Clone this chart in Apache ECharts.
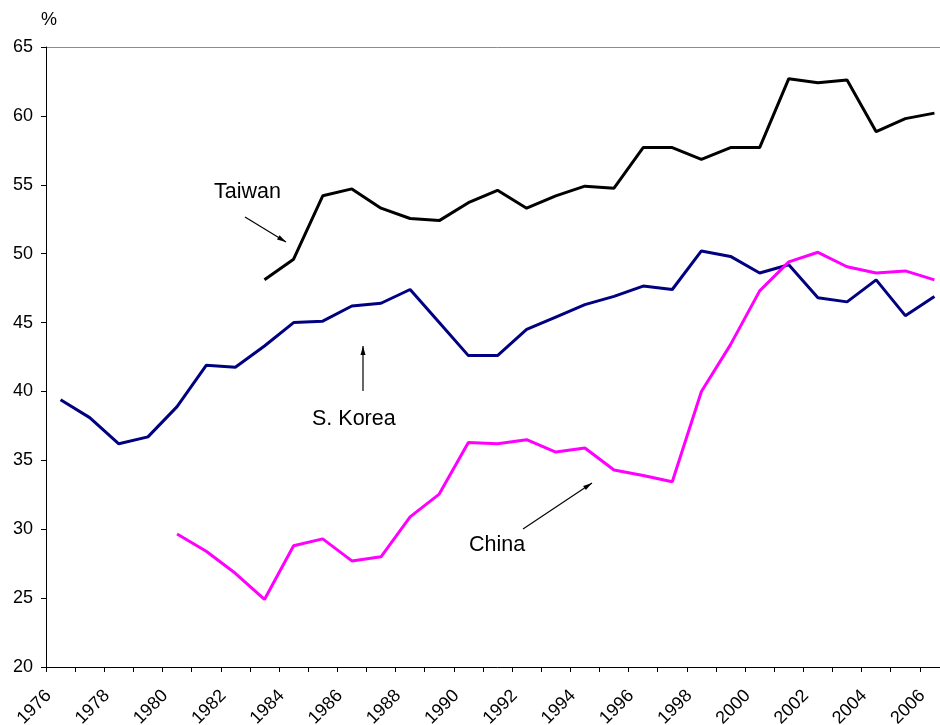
<!DOCTYPE html>
<html>
<head>
<meta charset="utf-8">
<script src="https://cdn.jsdelivr.net/npm/echarts@6/dist/echarts.min.js"></script>
<style>
  html, body { margin: 0; padding: 0; background: #fff; overflow: hidden; }
  #chart { width: 960px; height: 725px; }
</style>
</head>
<body>
<div id="chart"></div>
<script>
// Years on the category axis
const years = [];
for (let y = 1976; y <= 2006; y++) years.push(String(y));

// Shares in percent, one value per year (null where no data)
const korea = [39.4, 38.1, 36.2, 36.7, 38.9, 41.9, 41.75, 43.3, 45.0, 45.1,
  46.2, 46.4, 47.4, 45.0, 42.6, 42.6, 44.5, 45.4, 46.3, 46.9,
  47.65, 47.4, 50.2, 49.8, 48.6, 49.2, 46.8, 46.5, 48.1, 45.5, 46.9];

const taiwan = [null, null, null, null, null, null, null, 48.1, 49.6, 54.2,
  54.7, 53.3, 52.55, 52.4, 53.7, 54.6, 53.3, 54.2, 54.9, 54.75,
  57.7, 57.7, 56.85, 57.7, 57.7, 62.7, 62.4, 62.6, 58.85, 59.8, 60.2];

const china = [null, null, null, null, 29.65, 28.4, 26.8, 24.9, 28.8, 29.3,
  27.7, 28.0, 30.9, 32.55, 36.3, 36.2, 36.5, 35.6, 35.9, 34.3,
  33.9, 33.45, 40.0, 43.4, 47.3, 49.4, 50.1, 49.05, 48.6, 48.75, 48.1];

const yTicks = { min: 20, max: 65, step: 5 };

const FONT = 'Liberation Sans, Arial, sans-serif';

// Split lines: only the top one (65) is drawn, in grey
const splitColors = [];
for (let v = yTicks.min; v <= yTicks.max; v += yTicks.step) {
  splitColors.push(v === yTicks.max ? '#8c8c8c' : 'rgba(0,0,0,0)');
}

function arrow(x1, y1, x2, y2) {
  const ang = Math.atan2(y2 - y1, x2 - x1);
  const L = 9, W = 2.5;
  const bx = x2 - L * Math.cos(ang), by = y2 - L * Math.sin(ang);
  const px = -Math.sin(ang) * W, py = Math.cos(ang) * W;
  return [
    { type: 'line', shape: { x1: x1, y1: y1, x2: x2, y2: y2 }, style: { stroke: '#000', lineWidth: 1.2 }, z: 10 },
    { type: 'polygon', shape: { points: [[x2, y2], [bx + px, by + py], [bx - px, by - py]] }, style: { fill: '#000' }, z: 10 }
  ];
}

const chart = echarts.init(document.getElementById('chart'), null, { renderer: 'canvas' });

chart.setOption({
  animation: false,
  backgroundColor: '#ffffff',
  grid: { left: 46, top: 47, width: 903, height: 620, containLabel: false, outerBoundsMode: 'none' },
  xAxis: {
    type: 'category',
    data: years,
    boundaryGap: true,
    axisLine: { lineStyle: { color: '#000', width: 1 } },
    axisTick: { show: true, interval: 0, length: 5, lineStyle: { color: '#000' } },
    axisLabel: { interval: 1, rotate: 45, margin: 14, padding: [0, 17, 0, 0],
      fontFamily: FONT, fontSize: 18, color: '#000' },
    splitLine: { show: false }
  },
  yAxis: {
    type: 'value',
    min: yTicks.min, max: yTicks.max, interval: yTicks.step,
    name: '%',
    nameLocation: 'end',
    nameGap: 18,
    nameTextStyle: { fontFamily: FONT, fontSize: 18, color: '#000', align: 'left', padding: [0, 0, 0, -5] },
    axisLine: { show: true, lineStyle: { color: '#000', width: 1 } },
    axisTick: { show: true, length: 5, lineStyle: { color: '#000' } },
    axisLabel: { margin: 13, fontFamily: FONT, fontSize: 18, color: '#000' },
    splitLine: { show: true, lineStyle: { color: splitColors, width: 1 } }
  },
  series: [
    { name: 'Taiwan', type: 'line', data: taiwan, showSymbol: false, symbol: 'none',
      lineStyle: { color: '#000000', width: 3 }, itemStyle: { color: '#000000' } },
    { name: 'S. Korea', type: 'line', data: korea, showSymbol: false, symbol: 'none',
      lineStyle: { color: '#000080', width: 3 }, itemStyle: { color: '#000080' } },
    { name: 'China', type: 'line', data: china, showSymbol: false, symbol: 'none',
      lineStyle: { color: '#ff00ff', width: 3 }, itemStyle: { color: '#ff00ff' } }
  ],
  graphic: [
    { type: 'text', left: 214, top: 181, style: { text: 'Taiwan', font: '21.5px ' + FONT, fill: '#000' }, z: 10 },
    { type: 'text', left: 312, top: 408, style: { text: 'S. Korea', font: '21.5px ' + FONT, fill: '#000' }, z: 10 },
    { type: 'text', left: 469, top: 534, style: { text: 'China', font: '21.5px ' + FONT, fill: '#000' }, z: 10 }
  ].concat(arrow(245, 217, 286, 242), arrow(363, 391, 363, 346), arrow(523, 529, 592, 483))
});
</script>
</body>
</html>
